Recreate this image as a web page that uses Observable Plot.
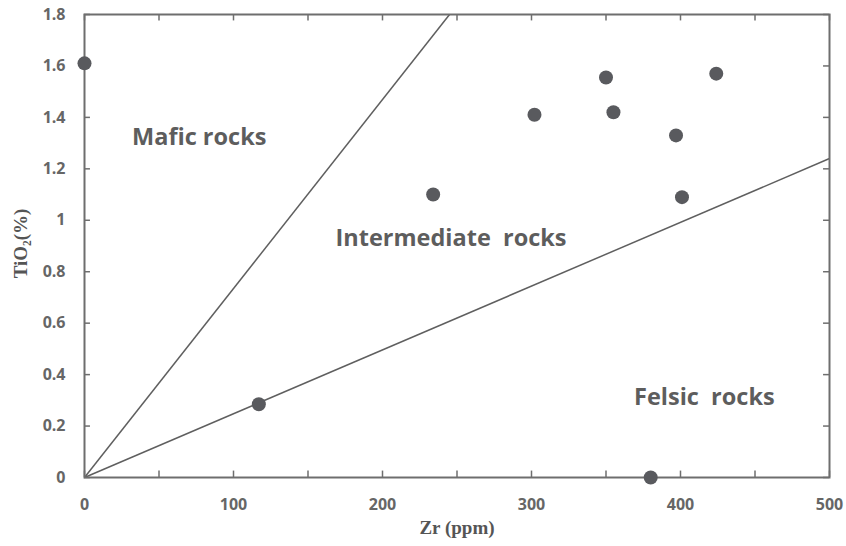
<!DOCTYPE html>
<html><head><meta charset="utf-8">
<script src="https://cdn.jsdelivr.net/npm/d3@7"></script>
<script src="https://cdn.jsdelivr.net/npm/@observablehq/plot@0.6"></script>
<style>body{margin:0;background:#fff}</style>
</head><body><div id="chart"></div>
<script>
const zr   = [0, 117, 234, 302, 350, 355, 397, 401, 424, 380];
const tio2 = [1.61, 0.285, 1.10, 1.41, 1.555, 1.42, 1.33, 1.09, 1.57, 0];
const lineEnds = [{x: 245, y: 1.8}, {x: 500, y: 1.24}];
const regionLabels = ["Mafic rocks", "Intermediate  rocks", "Felsic  rocks"];
const regionX = [77, 246, 416];
const regionY = [1.32, 0.93, 0.31];
const xTicks = [0, 100, 200, 300, 400, 500];
const xMinor = [0, 50, 100, 150, 200, 250, 300, 350, 400, 450, 500];
const yTicks = [0, 0.2, 0.4, 0.6, 0.8, 1, 1.2, 1.4, 1.6, 1.8];

const pts = zr.map((x, i) => ({x, y: tio2[i]}));
const segs = lineEnds.map(e => ({x1: 0, y1: 0, x2: e.x, y2: e.y}));
const labels = regionLabels.map((t, i) => ({t, x: regionX[i], y: regionY[i]}));
const grey = "#595a5e";

const chart = Plot.plot({
  width: 846, height: 546,
  marginLeft: 84, marginRight: 17, marginTop: 14, marginBottom: 69,
  style: {fontFamily: "'Open Sans', sans-serif", background: "#fff"},
  x: {domain: [0, 500]},
  y: {domain: [0, 1.8]},
  marks: [
    Plot.ruleX(xMinor, {x: d => d, y1: 0, y2: 0.025, stroke: "#6e6e6e", strokeWidth: 1.5}),
    Plot.ruleX(xMinor, {x: d => d, y1: 1.8, y2: 1.775, stroke: "#6e6e6e", strokeWidth: 1.5}),
    Plot.ruleY(yTicks, {y: d => d, x1: 0, x2: 4, stroke: "#6e6e6e", strokeWidth: 1.5}),
    Plot.ruleY(yTicks, {y: d => d, x1: 500, x2: 496, stroke: "#6e6e6e", strokeWidth: 1.5}),
    Plot.link(segs, {x1: "x1", y1: "y1", x2: "x2", y2: "y2", stroke: "#5f5f5f", strokeWidth: 1.5}),
    Plot.frame({stroke: "#6e6e6e", strokeWidth: 2}),
    Plot.axisX({ticks: xTicks, tickSize: 0, tickPadding: 21, fontSize: 16, fontWeight: "bold", fill: "#666", label: null, tickFormat: d => String(d)}),
    Plot.axisY({ticks: yTicks, tickSize: 0, tickPadding: 19, fontSize: 16, fontWeight: "bold", fill: "#666", label: null, tickFormat: d => String(+d.toFixed(1))}),
    Plot.dot(pts, {x: "x", y: "y", r: 7, fill: grey, stroke: "none"}),
    Plot.text(labels, {x: "x", y: "y", text: "t", fontSize: 23.5, fontWeight: "bold", fill: "#5d5d5d", fontFamily: "'Open Sans', sans-serif"}),
    Plot.text(["Zr (ppm)"], {frameAnchor: "bottom", dy: 56, text: d => d, fontSize: 19, fontWeight: "bold", fill: "#555", fontFamily: "'Liberation Serif', serif"}),
    Plot.text(["TiO₂(%)"], {x: () => -43, y: () => 0.91, rotate: -90, text: d => d, fontSize: 19, fontWeight: "bold", fill: "#555", fontFamily: "'Liberation Serif', serif"})
  ]
});
document.getElementById("chart").appendChild(chart);
</script></body></html>
